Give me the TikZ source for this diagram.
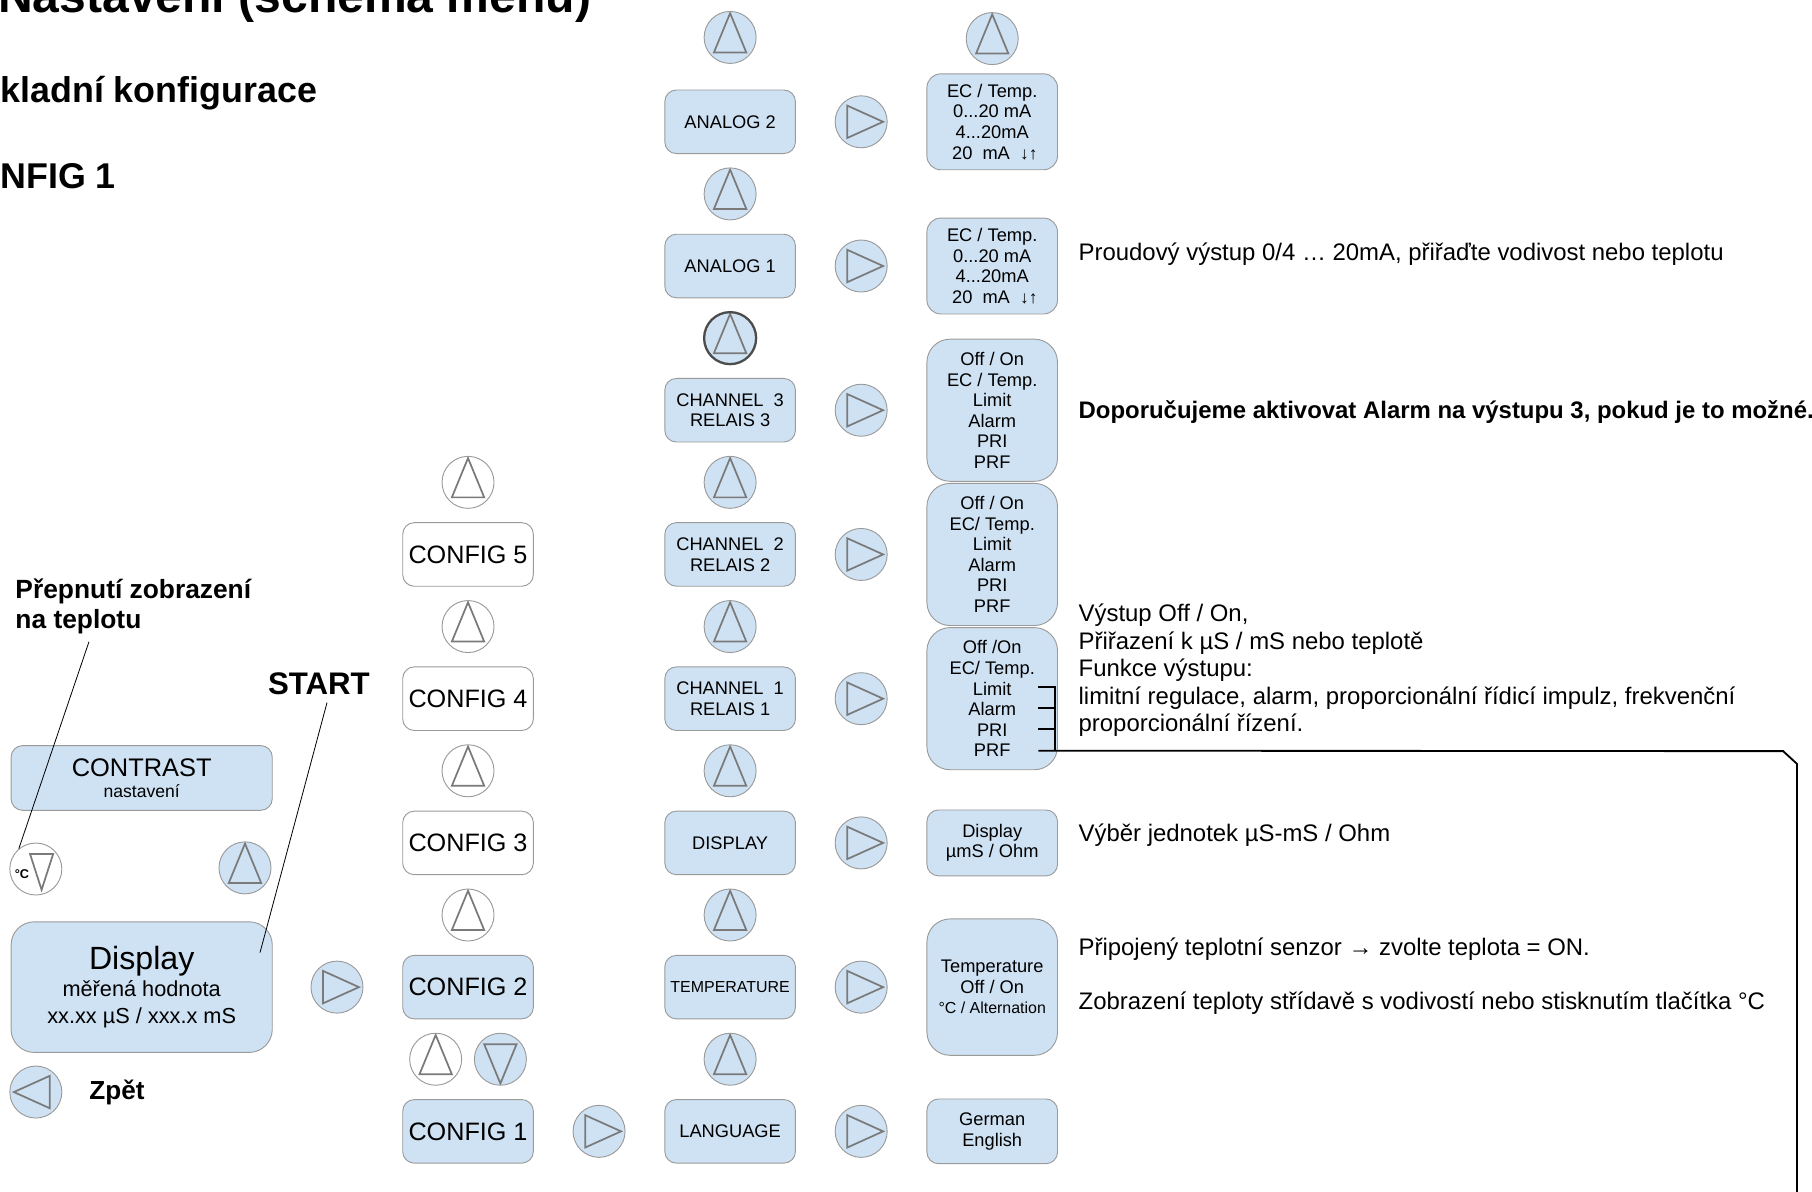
\documentclass[tikz,border=0pt]{standalone}
\usepackage{fontspec}
\setmainfont{Liberation Sans}
\usetikzlibrary{positioning,calc}
\definecolor{lightblue}{HTML}{CFE2F3}
\definecolor{rimgray}{HTML}{9A9A9A}
\definecolor{trigray}{HTML}{7A7A7A}
\newcommand{\fsz}[2]{\fontsize{#1}{#2}\selectfont}

\begin{document}
\begin{tikzpicture}[x=0.5pt, y=-0.5pt, node distance=31.2pt and 56.7pt, on grid]
\tikzstyle{menu}=[rectangle, rounded corners=5pt, draw=rimgray, fill=lightblue, minimum width=56.5pt, minimum height=27.5pt, inner sep=1pt, align=center, font=\fsz{7.9}{8.9}]
\tikzstyle{cfg}=[menu, fill=white, font=\fsz{10.9}{13}]
\tikzstyle{val}=[menu]
\tikzstyle{btn}=[circle, draw=rimgray, fill=lightblue, minimum size=22.5pt, inner sep=0pt]
\tikzstyle{tri}=[draw=trigray, line width=0.75pt]
\tikzstyle{btnup}=[btn, path picture={\draw[tri] (path picture bounding box.center) ++(0,-21) -- ++(14,34) -- ++(-28,0) -- cycle;}]
\tikzstyle{btndown}=[btn, path picture={\draw[tri] (path picture bounding box.center) ++(0,21) -- ++(14,-34) -- ++(-28,0) -- cycle;}]
\tikzstyle{btnright}=[btn, path picture={\draw[tri] (path picture bounding box.center) ++(19,0) -- ++(-31,14) -- ++(0,-28) -- cycle;}]
\tikzstyle{btnleft}=[btn, path picture={\draw[tri] (path picture bounding box.center) ++(-19,0) -- ++(31,14) -- ++(0,-28) -- cycle;}]
\tikzstyle{note}=[anchor=west, inner sep=0pt, align=left, font=\fsz{10.35}{11.9}]
\tikzstyle{head}=[anchor=base west, inner sep=0pt, font=\bfseries\fsz{15.5}{18}]
\tikzstyle{leader}=[draw=black, line width=0.35pt]
\useasboundingbox (0,0) rectangle (1568,1031);

% headings
\node[head, font=\bfseries\fsz{20.8}{24}] (title) at (-2,11) {Nastavení (schéma menu)};
\node[head] (basic) at (0,89) {kladní konfigurace};
\node[head] (cfgtitle) at (0,163) {NFIG 1};

% config column
\node[cfg, fill=lightblue] (cfg1) at (405,979) {CONFIG 1};
\node[btnup, fill=white, above=of cfg1, xshift=-14pt] (pairup) {};
\node[btndown, above=of cfg1, xshift=14pt] (pairdn) {};
\node[cfg, fill=lightblue, above=62.4pt of cfg1] (cfg2) {CONFIG 2};
\node[btnup, fill=white, above=of cfg2] (upc2) {};
\node[cfg, above=of upc2] (cfg3) {CONFIG 3};
\node[btnup, fill=white, above=of cfg3] (upc3) {};
\node[cfg, above=of upc3] (cfg4) {CONFIG 4};
\node[btnup, fill=white, above=of cfg4] (upc4) {};
\node[cfg, above=of upc4] (cfg5) {CONFIG 5};
\node[btnup, fill=white, above=of cfg5] (upc5) {};
\node[btnright, right=of cfg1] (rcfg1) {};

% menu column
\node[menu, right=of rcfg1] (lang) {LANGUAGE};
\node[btnup, above=of lang] (upa1) {};
\node[menu, above=of upa1, font=\fsz{6.9}{8}] (temp) {TEMPERATURE};
\node[btnup, above=of temp] (upa2) {};
\node[menu, above=of upa2] (disp) {DISPLAY};
\node[btnup, above=of disp] (upa3) {};
\node[menu, above=of upa3] (ch1) {CHANNEL~~1\\RELAIS 1};
\node[btnup, above=of ch1] (upa4) {};
\node[menu, above=of upa4] (ch2) {CHANNEL~~2\\RELAIS 2};
\node[btnup, above=of ch2] (upa5) {};
\node[menu, above=of upa5] (ch3) {CHANNEL~~3\\RELAIS 3};
\node[btnup, above=of ch3, draw=black!70, line width=1pt] (upa6) {};
\node[menu, above=of upa6] (an1) {ANALOG 1};
\node[btnup, above=of an1] (upa7) {};
\node[menu, above=of upa7] (an2) {ANALOG 2};
\node[btnup, above=36.5pt of an2] (upa8) {};

% arrows to the values
\node[btnright, right=of lang] (rlang) {};
\node[btnright, right=of temp] (rtemp) {};
\node[btnright, right=of disp] (rdisp) {};
\node[btnright, right=of ch1] (rch1) {};
\node[btnright, right=of ch2] (rch2) {};
\node[btnright, right=of ch3] (rch3) {};
\node[btnright, right=of an1] (ran1) {};
\node[btnright, right=of an2] (ran2) {};

% value column
\node[val, minimum height=28pt, right=of rlang] (langval) {German\\English};
\node[val, minimum height=59pt, rounded corners=10pt, right=of rtemp] (tempval) {Temperature\\Off / On\\{\fsz{6.9}{8}°C / Alternation}};
\node[val, minimum height=28.5pt, right=of rdisp] (dispval) {Display\\µmS / Ohm};
\node[val, minimum height=61.5pt, rounded corners=10pt, right=of rch1] (ch1val) {Off /On\\EC/ Temp.\\Limit\\Alarm\\PRI\\PRF};
\node[val, minimum height=61.5pt, rounded corners=10pt, right=of rch2] (ch2val) {Off / On\\EC/ Temp.\\Limit\\Alarm\\PRI\\PRF};
\node[val, minimum height=61.5pt, rounded corners=10pt, right=of rch3] (ch3val) {Off / On\\EC / Temp.\\Limit\\Alarm\\PRI\\PRF};
\node[val, minimum height=41.5pt, rounded corners=6pt, right=of ran1] (an1val) {EC / Temp.\\0...20 mA\\4...20mA\\~20~~mA~~{\bfseries\fsz{7.5}{7.5}↓↑}};
\node[val, minimum height=41.5pt, rounded corners=6pt, right=of ran2] (an2val) {EC / Temp.\\0...20 mA\\4...20mA\\~20~~mA~~{\bfseries\fsz{7.5}{7.5}↓↑}};
\node[btnup, above=36pt of an2val] (upb) {};

% display side
\node[btnright, left=of cfg2] (rin) {};
\node[menu, minimum width=113pt, minimum height=56.5pt, rounded corners=10pt, left=84.5pt of rin] (dispbox) {{\fsz{13.9}{16}Display}\\[1pt]{\fsz{9.4}{11}měřená hodnota}\\[2.5pt]{\fsz{9.4}{11}xx.xx µS / xxx.x mS}};
\node[menu, minimum width=113pt, minimum height=28pt, above=90.5pt of dispbox] (contrast) {{\fsz{11}{12}CONTRAST}\\{\fsz{7.6}{9}nastavení}};
\node[btn, fill=white, path picture={\draw[tri] ($(path picture bounding box.center)+(-5,-13)$) -- ++(20,0) -- ++(-10,31) -- cycle;}] (degbtn) at (31,752) {};
\node[font=\bfseries\fsz{5.5}{6}, inner sep=0pt] (degtxt) at (19,756) {°C};
\node[btnup] (upleft) at (212,751) {};
\node[btnleft] (back) at (31,945) {};
\node[anchor=west, inner sep=0pt, font=\bfseries\fsz{11.3}{13}] (backtxt) at (77,945) {Zpět};
\node[anchor=west, inner sep=0pt, align=left, font=\bfseries\fsz{11.4}{13}] (degnote) at (13,525) {Přepnutí zobrazení\\na teplotu};
\node[inner sep=0pt, font=\bfseries\fsz{13.5}{16}] (start) at (276,592) {START};
\draw[leader] ($(degnote.south west)+(64,6)$) -- (degbtn.130);
\draw[leader] ($(start.south)+(7,6)$) -- ($(dispbox.north east)+(-11,27)$);

% notes
\node[note] (analognote) at (933,220) {Proudový výstup 0/4 … 20mA, přiřaďte vodivost nebo teplotu};
\node[note, font=\bfseries\fsz{10.35}{11.9}] (alarmnote) at (933,357) {Doporučujeme aktivovat Alarm na výstupu 3, pokud je to možné.};
\node[note] (channote) at (933,580) {Výstup Off / On,\\Přiřazení k µS / mS nebo teplotě\\Funkce výstupu:\\limitní regulace, alarm, proporcionální řídicí impulz, frekvenční\\proporcionální řízení.};
\node[note] (dispnote) at (933,723) {Výběr jednotek µS-mS / Ohm};
\node[note] (tempnote1) at (933,821) {Připojený teplotní senzor → zvolte teplota = ON.};
\node[note] (tempnote2) at (933,868) {Zobrazení teploty střídavě s vodivostí nebo stisknutím tlačítka °C};

% bracket of the functions
\coordinate (tick1) at ($(ch1val)+(40,-10)$);
\coordinate (tick2) at ($(ch1val)+(40,8)$);
\coordinate (tick3) at ($(ch1val)+(40,26)$);
\coordinate (tick4) at ($(ch1val)+(40,45)$);
\coordinate (bendA) at (1543,650);
\coordinate (bendB) at (1555,661);
\coordinate (lineend) at (1555,1040);
\draw[line width=0.8pt] (tick1) -- ++(14,0) -- ++(0,55);
\draw[line width=0.8pt] (tick2) -- ++(14,0);
\draw[line width=0.8pt] (tick3) -- ++(14,0);
\draw[line width=0.8pt] (tick4) -- (bendA) -- (bendB) -- (lineend);
\end{tikzpicture}
\end{document}
